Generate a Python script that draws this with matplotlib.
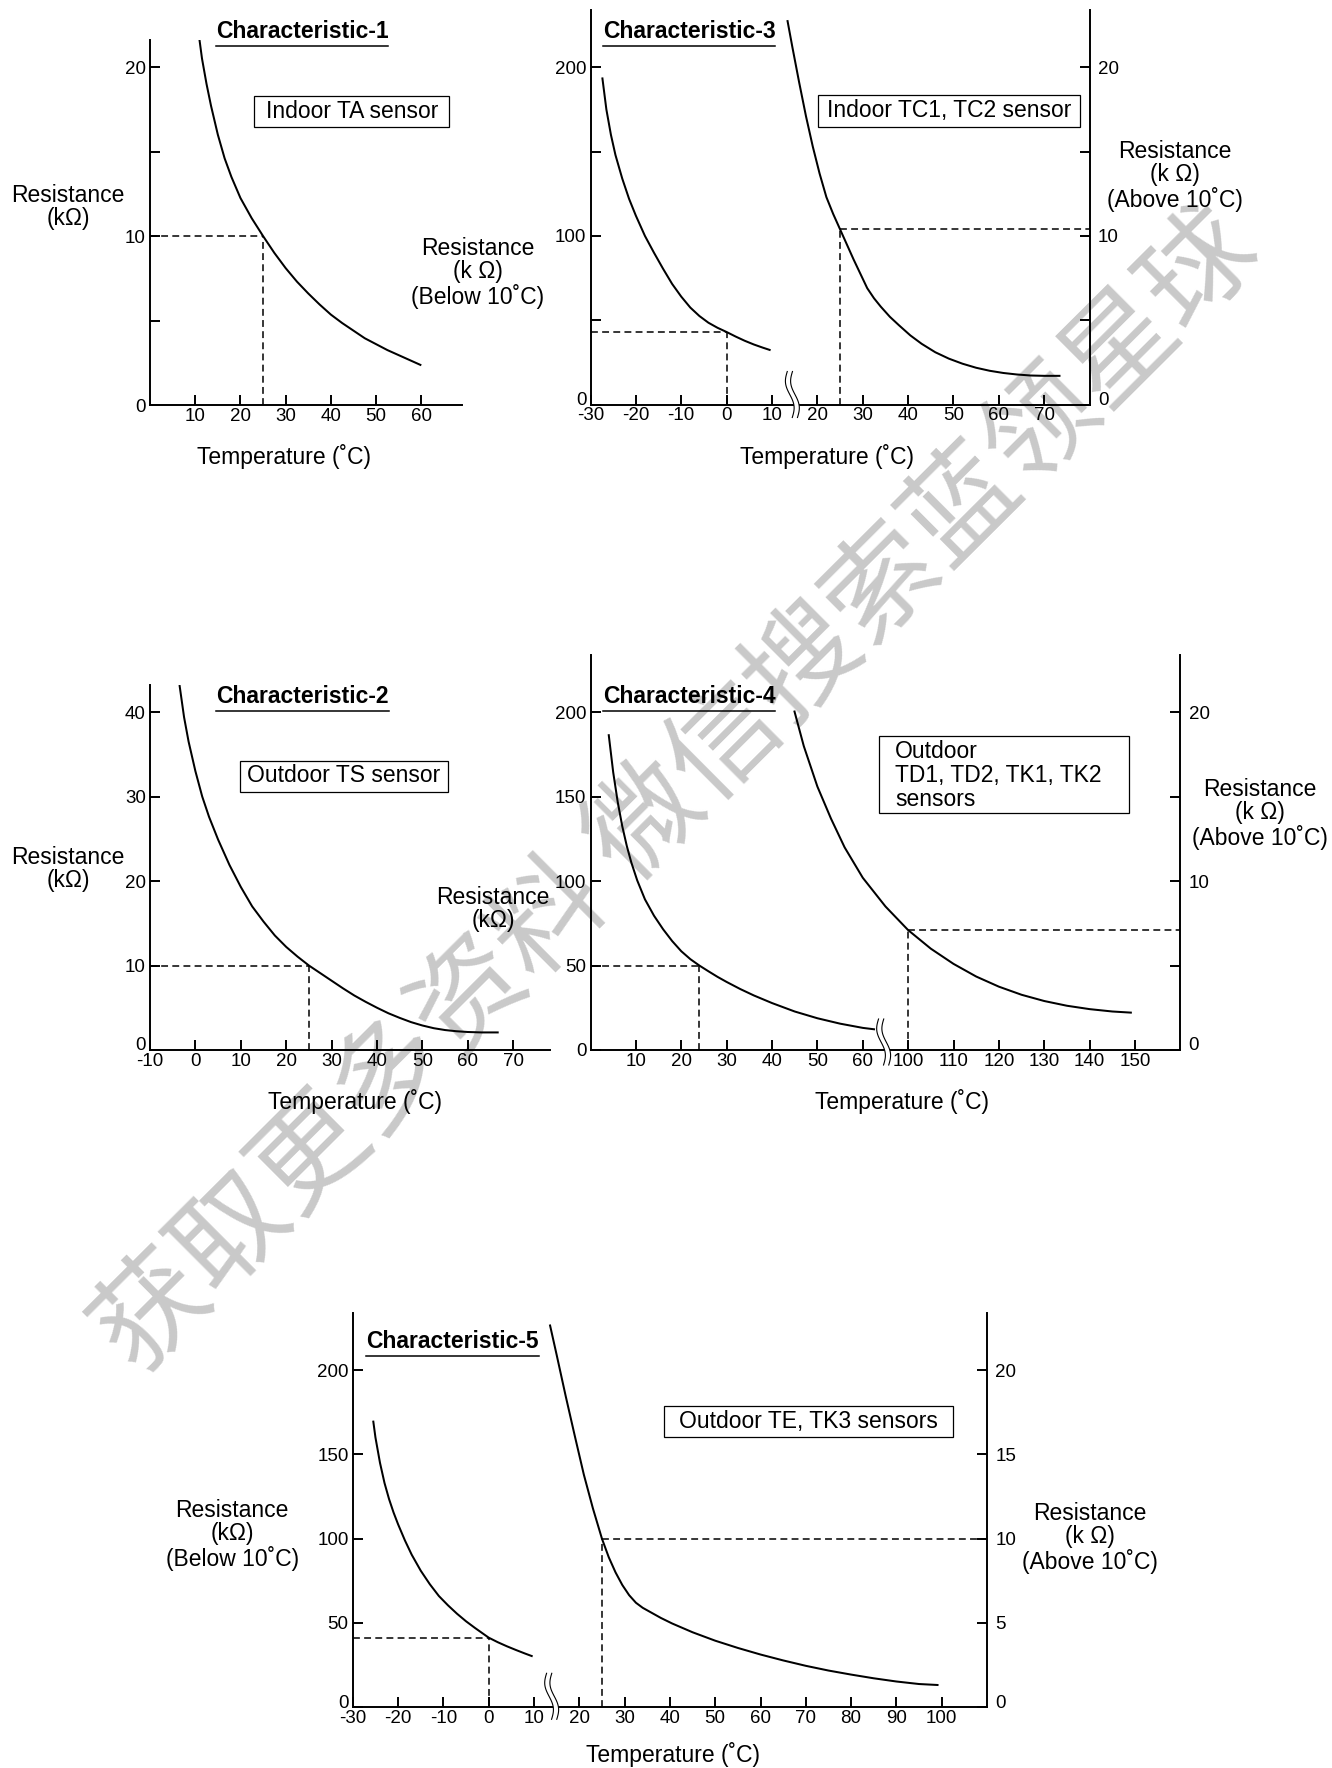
import numpy as np
import matplotlib
matplotlib.use("Agg")
import matplotlib.pyplot as plt
from matplotlib.lines import Line2D
from matplotlib.patches import Polygon, Rectangle
from matplotlib.transforms import IdentityTransform, ScaledTranslation

# ---------------- data ----------------
# Characteristic-1 : Indoor TA sensor (kOhm)
c1_temp = [10.8, 11.5, 12.5, 13.5, 15, 16.5, 18, 20, 22.5, 25, 27.5, 30, 32.5, 35, 37.5,
           40, 42.5, 45, 47.5, 50, 52.5, 55, 57.5, 60]
c1_res = [21.9, 20.5, 19.0, 17.7, 16.0, 14.6, 13.5, 12.25, 11.05, 10.0, 9.0, 8.1, 7.3, 6.6, 5.95,
          5.35, 4.85, 4.4, 3.95, 3.6, 3.25, 2.95, 2.65, 2.35]
c1_ref = (25, 10)

# Characteristic-3 : Indoor TC1, TC2 sensor
c3_low_temp = [-27.4, -26.5, -25.5, -24.5, -23, -21.5, -20, -18, -16, -14, -12, -10, -8, -6,
               -4, -2, 0, 2, 4, 6, 8, 9.7]
c3_low_res = [194, 175, 160, 148, 134, 122, 112, 100, 90, 80.5, 71.5, 64, 57.5, 52.5,
              48.5, 45.5, 43, 40.3, 37.8, 35.6, 33.7, 32.2]
c3_high_temp = [13.4, 14.5, 16, 17.5, 19, 20.5, 22, 23.5, 25, 26.5, 28, 29.5, 31, 32.5, 34,
                36, 38, 40.5, 43, 46, 49, 52, 55, 58, 61, 64, 67, 70, 73.6]
c3_high_res = [22.8, 21.2, 19.1, 17.1, 15.3, 13.7, 12.3, 11.3, 10.4, 9.5, 8.6, 7.75, 6.9, 6.3, 5.8,
               5.2, 4.7, 4.1, 3.6, 3.1, 2.72, 2.42, 2.18, 2.0, 1.87, 1.78, 1.72, 1.70, 1.70]
c3_low_ref = (0, 43)
c3_high_ref = (25, 10.4)

# Characteristic-2 : Outdoor TS sensor
c2_temp = [-3.5, -2.5, -1.5, 0, 1.5, 3, 5, 7.5, 10, 12.5, 15, 17.5, 20, 22.5, 25, 27.5, 30,
           32.5, 35, 37.5, 40, 42.5, 45, 47.5, 50, 52.5, 55, 57.5, 60, 63, 66.8]
c2_res = [43.2, 39.4, 36.5, 33.0, 30.0, 27.6, 24.9, 21.9, 19.3, 17.0, 15.2, 13.55, 12.2, 11.05,
          10.0, 9.1, 8.2, 7.3, 6.45, 5.7, 5.0, 4.35, 3.8, 3.3, 2.9, 2.58, 2.36, 2.22, 2.13,
          2.08, 2.08]
c2_ref = (25, 10)

# Characteristic-4 : Outdoor TD1, TD2, TK1, TK2 sensors
c4_low_temp = [4.0, 5, 6, 7, 8, 9, 10.3, 12, 14, 16, 18, 20, 22, 24, 26, 28, 30, 33, 36, 40,
               45, 50, 55, 60, 62.7]
c4_low_res = [187, 164.5, 146.8, 132.5, 120.8, 111, 100.4, 89.2, 79.5, 71.5, 64.5, 58.5, 53.8,
              50, 46.6, 43.3, 40.3, 36.1, 32.3, 27.8, 22.8, 18.8, 15.6, 13.1, 12.2]
c4_high_temp = [74.9, 77, 80, 83, 86, 90, 95, 100, 105, 110, 115, 120, 125, 130, 135, 140,
                145, 149.3]
c4_high_res = [20.1, 18.0, 15.6, 13.7, 12.0, 10.2, 8.5, 7.1, 6.0, 5.1, 4.35, 3.75, 3.27, 2.9,
               2.62, 2.42, 2.28, 2.21]
c4_low_ref = (24, 50)
c4_high_ref = (100, 7.1)
c4_xticks_low = [10, 20, 30, 40, 50, 60]
c4_xticks_high = [100, 110, 120, 130, 140, 150]

# Characteristic-5 : Outdoor TE, TK3 sensors
c5_low_temp = [-25.5, -25, -24, -23, -22, -21, -20, -18.5, -17, -15, -13, -11, -9, -7, -5,
               -3, 0, 2, 4, 6, 8, 9.7]
c5_low_res = [170, 160, 145, 133, 123.5, 115.5, 108.5, 99, 90.5, 81, 73, 66, 60.5, 55.5,
              51, 47, 41.3, 38.6, 36.2, 34.0, 31.9, 30.2]
c5_high_temp = [13.5, 15, 17, 19, 21, 23, 25, 26.5, 28, 29.5, 31, 32.5, 34, 36, 38, 40.5, 45,
                50, 55, 60, 65, 70, 75, 80, 85, 90, 95, 99.3]
c5_high_res = [22.7, 20.9, 18.45, 16.1, 13.8, 11.8, 10.0, 8.9, 8.0, 7.25, 6.65, 6.2, 5.9, 5.6,
               5.3, 4.97, 4.45, 3.95, 3.52, 3.13, 2.78, 2.46, 2.18, 1.94, 1.72, 1.53, 1.38, 1.32]
c5_low_ref = (0, 41.3)
c5_high_ref = (25, 10)

# ---------------- style ----------------
plt.rcParams['font.family'] = ['Liberation Sans', 'DejaVu Sans']
plt.rcParams['axes.unicode_minus'] = False

W, H = 1332, 1768
fig = plt.figure(figsize=(W / 100, H / 100), dpi=100)
fig.patch.set_facecolor('white')

TXT = 16.5
TICK = 13.5
LW_AX = 1.4
LW_CURVE = 1.45
LW_DASH = 1.1
DASH = (0, (4.5, 2.8))
LSP = 1.05


def make_axes(l, t, r, b, xlim, ylim):
    ax = fig.add_axes([l / W, 1 - b / H, (r - l) / W, (b - t) / H])
    ax.set_facecolor('none')
    ax.spines['top'].set_visible(False)
    ax.spines['right'].set_visible(False)
    for s in ('left', 'bottom'):
        ax.spines[s].set_linewidth(LW_AX)
    ax.tick_params(direction='in', length=7, width=LW_AX, labelsize=TICK)
    ax.tick_params(axis='y', pad=3)
    ax.tick_params(axis='x', pad=2)
    ax.set_xlim(*xlim)
    ax.set_ylim(*ylim)
    ax.autoscale(False)
    return ax


def right_axis(ax, ymax, ticks, labels):
    a2 = ax.twinx()
    a2.set_facecolor('none')
    for s in ('top', 'left', 'bottom'):
        a2.spines[s].set_visible(False)
    a2.spines['right'].set_linewidth(LW_AX)
    a2.set_ylim(0, ymax)
    a2.set_yticks(ticks)
    a2.set_yticklabels(labels)
    a2.tick_params(axis='y', direction='in', length=7, width=LW_AX,
                   labelsize=TICK, pad=6)
    a2.autoscale(False)
    return a2


def curve(ax, x, y):
    ax.plot(x, y, color='black', lw=LW_CURVE, solid_capstyle='butt',
            solid_joinstyle='round')


def ref_left(ax, x, y):
    x0 = ax.get_xlim()[0]
    ax.plot([x0, x], [y, y], color='black', lw=LW_DASH, ls=DASH)
    ax.plot([x, x], [0, y], color='black', lw=LW_DASH, ls=DASH)


def ref_right(ax, x, y):
    x1 = ax.get_xlim()[1]
    ax.plot([x, x1], [y, y], color='black', lw=LW_DASH, ls=DASH)
    ax.plot([x, x], [0, y], color='black', lw=LW_DASH, ls=DASH)


def axis_break(ax, xval, up=33, down=13):
    x0, y0 = ax.transData.transform((xval, ax.get_ylim()[0]))
    t = np.linspace(0, 1, 60)
    ys = y0 - down + (up + down) * t
    wig = 3.0 * np.sin(2 * np.pi * t) + 2.5 - 5.0 * t
    xa = x0 - 2.6 + wig
    xb = x0 + 2.6 + wig
    poly = Polygon(np.column_stack([np.r_[xa, xb[::-1]], np.r_[ys, ys[::-1]]]),
                   closed=True, fc='white', ec='none',
                   transform=IdentityTransform(), zorder=5)
    fig.add_artist(poly)
    for xs in (xa, xb):
        fig.add_artist(Line2D(xs, ys, color='black', lw=0.8,
                              transform=IdentityTransform(), zorder=6))


def text_at(x, y, s, size=TXT, ha='center', va='center', **kw):
    return fig.text(x / W, 1 - y / H, s, fontsize=size, ha=ha, va=va,
                    linespacing=LSP, multialignment=kw.pop('ma', 'center'), **kw)


def box(x0, y0, x1, y1):
    fig.add_artist(Rectangle((x0 / W, 1 - y1 / H), (x1 - x0) / W, (y1 - y0) / H,
                             transform=fig.transFigure, fill=False,
                             ec='black', lw=0.9, zorder=4))


titles = []


def title(x, y, s):
    titles.append(text_at(x, y, s, fontweight='bold'))


raise_zero = []   # (axis, use label2) whose "0" tick label sits a little above the x axis

# ---------------- watermark ----------------
fig.text(678 / W, 1 - 793 / H, "获取更多资料 微信搜索蓝领星球", fontsize=80.5,
         color='#c9c9c9', rotation=44.9, rotation_mode='anchor',
         ha='center', va='center',
         family=['Noto Sans CJK SC', 'DejaVu Sans'], zorder=-1)

# ---------------- Characteristic-1 ----------------
ax1 = make_axes(150, 40, 462, 405, (0, 69), (0, 21.6))
curve(ax1, c1_temp, c1_res)
ref_left(ax1, *c1_ref)
ax1.set_yticks([0, 5, 10, 15, 20])
ax1.set_yticklabels(['0', '', '10', '', '20'])
ax1.set_xticks([10, 20, 30, 40, 50, 60])
title(302, 31.7, "Characteristic-1")
text_at(352, 111.5, "Indoor TA sensor")
box(254, 96, 449, 126.5)
text_at(68, 207, "Resistance\n(kΩ)")
text_at(478, 273, "Resistance\n(k Ω)\n(Below 10˚C)")
text_at(284, 456.7, "Temperature (˚C)")

# ---------------- Characteristic-3 ----------------
ax3 = make_axes(590.5, 10, 1089.5, 404.5, (-30, 80), (0, 234))
ax3r = right_axis(ax3, 23.4, [0, 5, 10, 15, 20], ['0', '', '10', '', '20'])
curve(ax3, c3_low_temp, c3_low_res)
curve(ax3r, c3_high_temp, c3_high_res)
ref_left(ax3, *c3_low_ref)
ref_right(ax3r, *c3_high_ref)
ax3.set_yticks([0, 50, 100, 150, 200])
ax3.set_yticklabels(['0', '', '100', '', '200'])
ax3.set_xticks(list(range(-30, 80, 10)))
axis_break(ax3, 14.5)
raise_zero += [(ax3, False), (ax3r, True)]
title(689, 31.7, "Characteristic-3")
text_at(949, 111, "Indoor TC1, TC2 sensor")
box(818, 95.5, 1080, 126.5)
text_at(1175, 176, "Resistance\n(k Ω)\n(Above 10˚C)")
text_at(826.5, 456.7, "Temperature (˚C)")

# ---------------- Characteristic-2 ----------------
ax2 = make_axes(150, 685, 550, 1050, (-10, 78.1), (0, 43.2))
curve(ax2, c2_temp, c2_res)
ref_left(ax2, *c2_ref)
ax2.set_yticks([0, 10, 20, 30, 40])
ax2.set_xticks(list(range(-10, 80, 10)))
raise_zero += [(ax2, False)]
title(302.7, 696.7, "Characteristic-2")
text_at(344, 776, "Outdoor TS sensor")
box(240, 760.7, 448, 791.7)
text_at(68, 869, "Resistance\n(kΩ)")
text_at(493, 909, "Resistance\n(kΩ)")
text_at(355.4, 1101.7, "Temperature (˚C)")

# ---------------- Characteristic-4 ----------------
C4_GAP = c4_xticks_high[0] - (c4_xticks_low[-1] + 10)   # span hidden by the axis break
c4_low_pos = list(c4_low_temp)
c4_high_pos = [t - C4_GAP for t in c4_high_temp]
ax4 = make_axes(590.5, 655, 1180.4, 1050, (0, 130), (0, 233.9))
ax4r = right_axis(ax4, 23.39, [0, 5, 10, 15, 20], ['0', '', '10', '', '20'])
curve(ax4, c4_low_pos, c4_low_res)
curve(ax4r, c4_high_pos, c4_high_res)
ref_left(ax4, *c4_low_ref)
ref_right(ax4r, c4_high_ref[0] - C4_GAP, c4_high_ref[1])
ax4.set_yticks([0, 50, 100, 150, 200])
ax4.set_xticks(c4_xticks_low + [t - C4_GAP for t in c4_xticks_high])
ax4.set_xticklabels([str(t) for t in c4_xticks_low + c4_xticks_high])
axis_break(ax4, 64.6, up=31, down=15)
raise_zero += [(ax4r, True)]
title(689, 696.7, "Characteristic-4")
text_at(895, 775.5, "Outdoor\nTD1, TD2, TK1, TK2\nsensors", ha='left', ma='left')
box(879.4, 735.7, 1128.9, 813.3)
text_at(1259.7, 814, "Resistance\n(k Ω)\n(Above 10˚C)")
text_at(902, 1101.7, "Temperature (˚C)")

# ---------------- Characteristic-5 ----------------
ax5 = make_axes(352.8, 1312.7, 987, 1707.3, (-30, 110), (0, 234))
ax5r = right_axis(ax5, 23.4, [0, 5, 10, 15, 20], ['0', '5', '10', '15', '20'])
curve(ax5, c5_low_temp, c5_low_res)
curve(ax5r, c5_high_temp, c5_high_res)
ref_left(ax5, *c5_low_ref)
ref_right(ax5r, *c5_high_ref)
ax5.set_yticks([0, 50, 100, 150, 200])
ax5.set_xticks(list(range(-30, 110, 10)))
axis_break(ax5, 13.9, up=34, down=12)
raise_zero += [(ax5, False), (ax5r, True)]
title(452.4, 1341.7, "Characteristic-5")
text_at(808, 1421.7, "Outdoor TE, TK3 sensors")
box(663.6, 1406, 952.8, 1437.3)
text_at(232.3, 1535, "Resistance\n(kΩ)\n(Below 10˚C)")
text_at(1090.3, 1538, "Resistance\n(k Ω)\n(Above 10˚C)")
text_at(673, 1754.6, "Temperature (˚C)")

# ---------------- title underlines, raised zero labels ----------------
fig.canvas.draw()
renderer = fig.canvas.get_renderer()
for t in titles:
    bb = t.get_window_extent(renderer)
    _, ty = t.get_position()
    y = ty - 14.5 / H
    fig.add_artist(Line2D([bb.x0 / W, bb.x1 / W], [y, y], color='black',
                          lw=1.1, transform=fig.transFigure))

lift = ScaledTranslation(0, 6 / 100, fig.dpi_scale_trans)
for a, second in raise_zero:
    tk = a.yaxis.get_major_ticks()[0]
    lab = tk.label2 if second else tk.label1
    lab.set_transform(lab.get_transform() + lift)

fig.savefig("out.png", dpi=100, facecolor='white')
